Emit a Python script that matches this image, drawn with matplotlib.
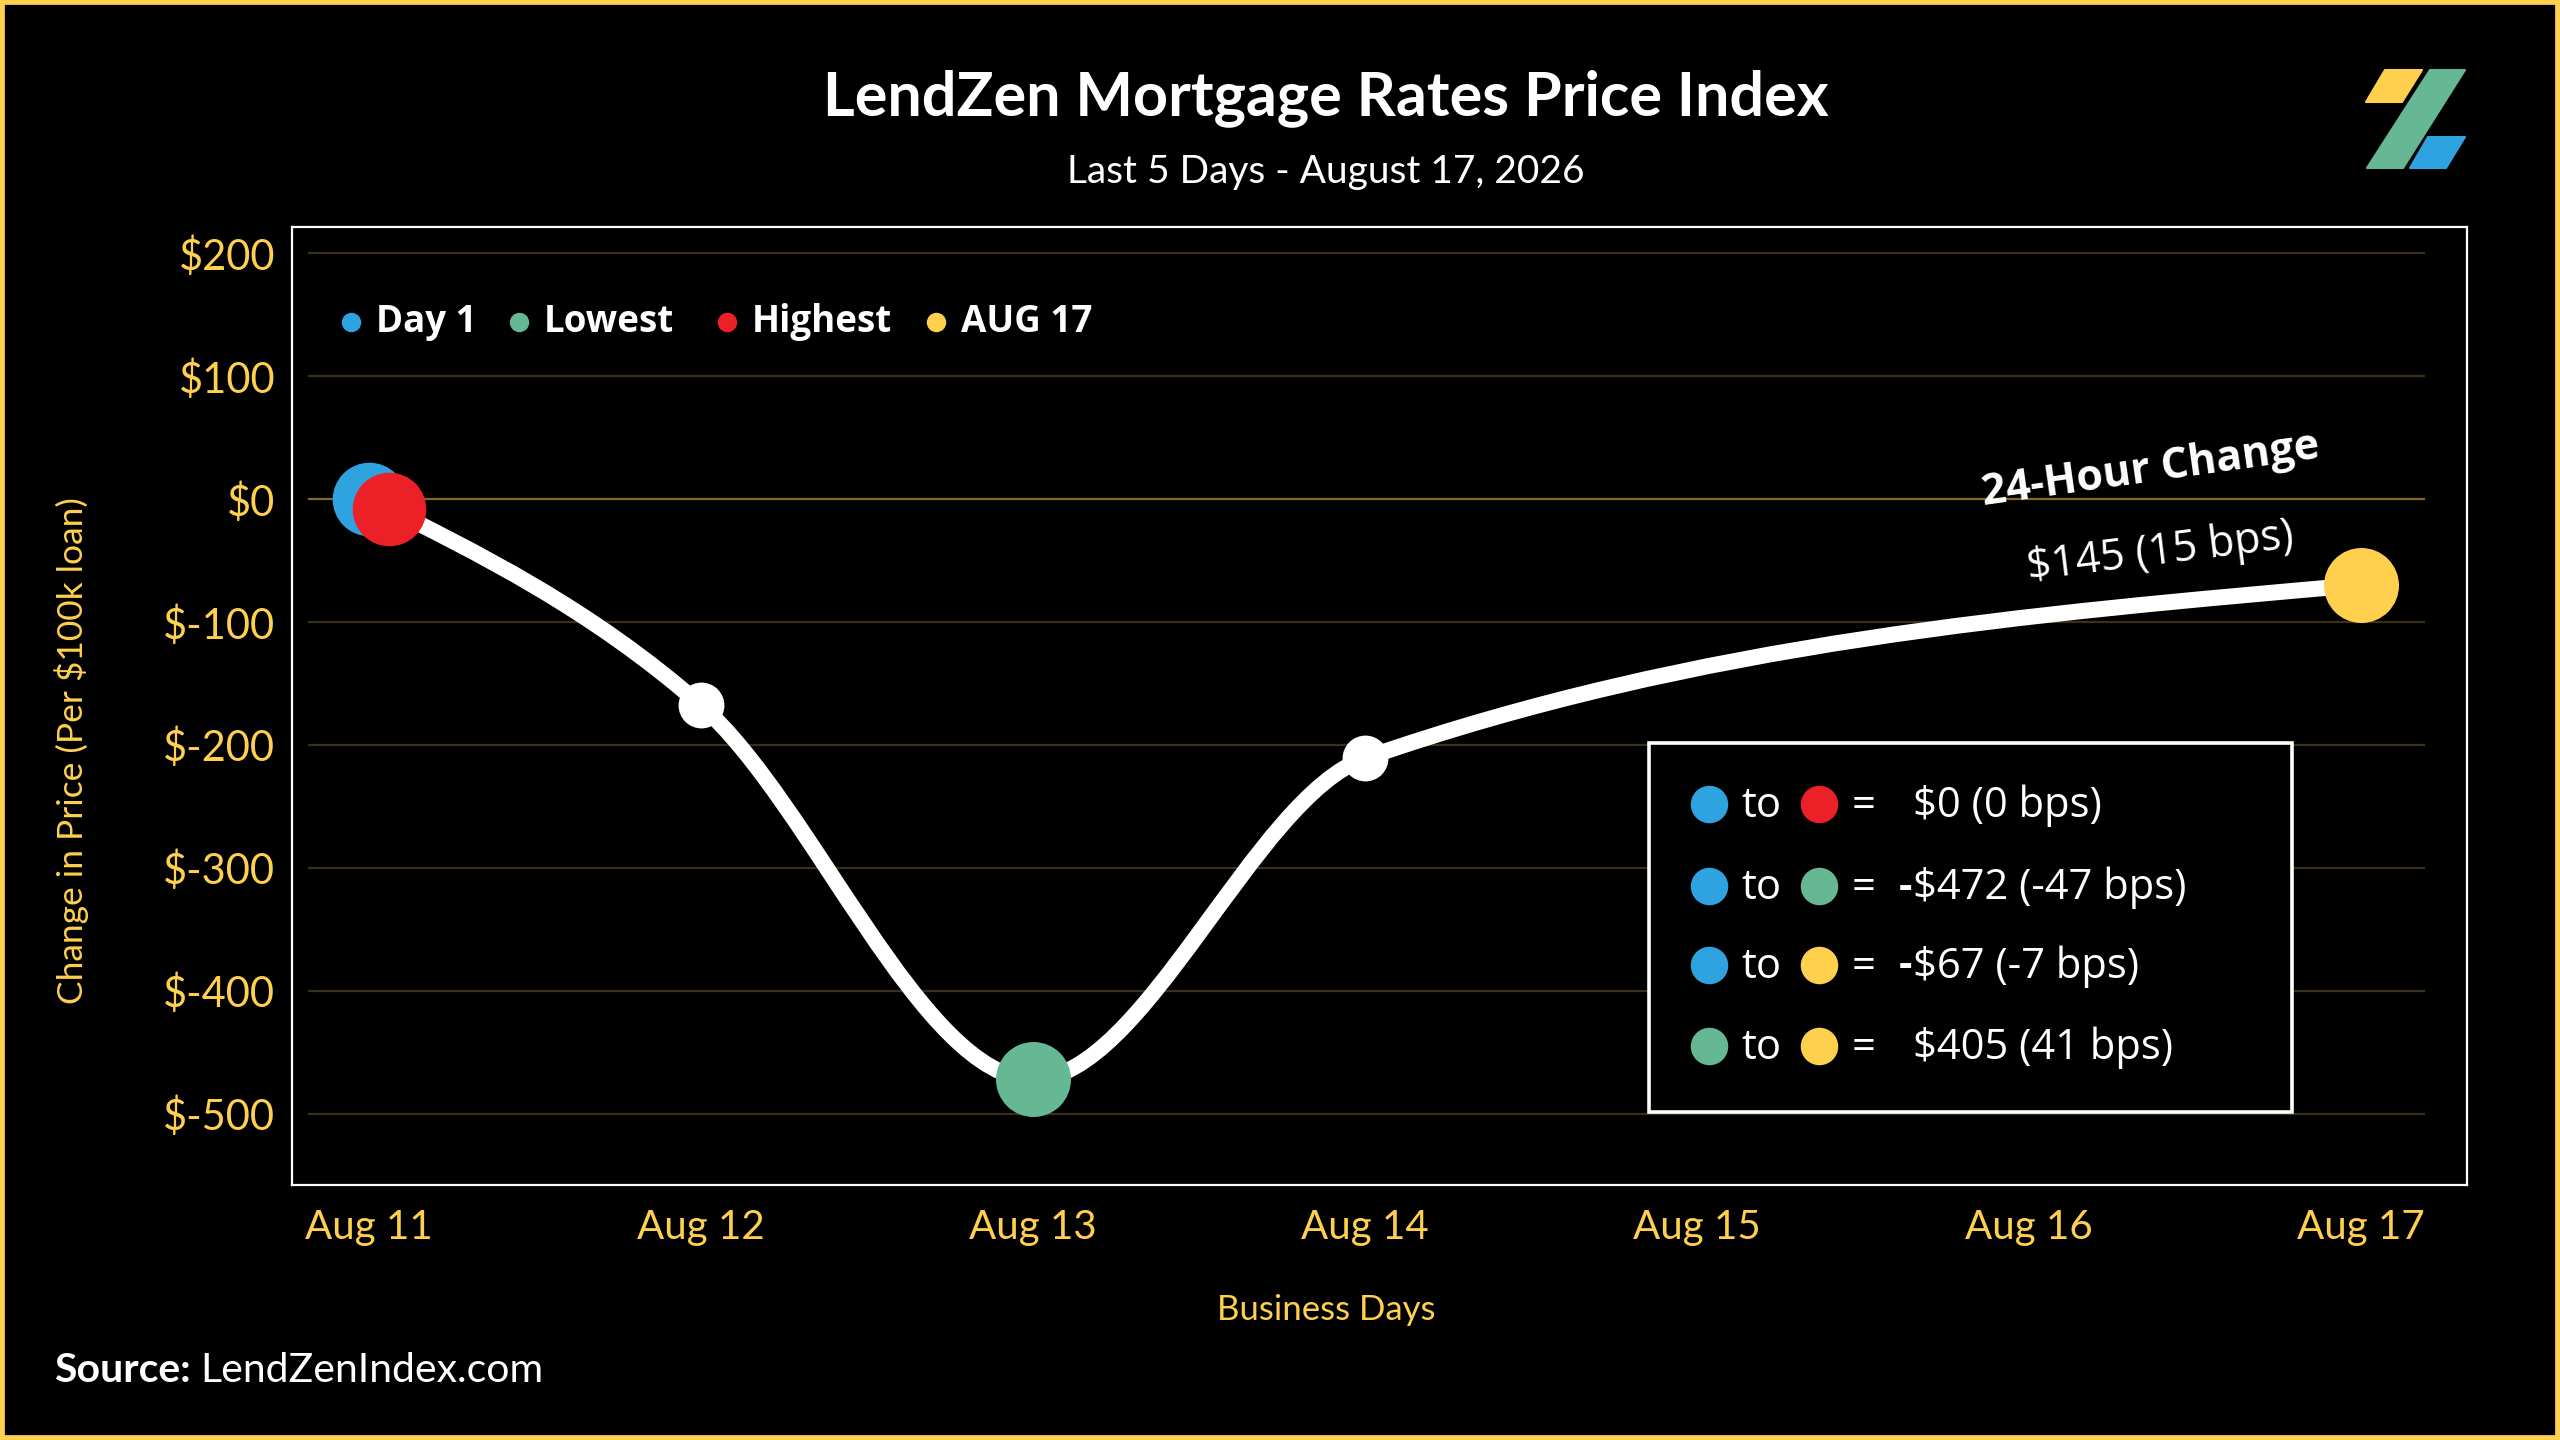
import numpy as np
import matplotlib
matplotlib.use("Agg")
import matplotlib.pyplot as plt
from matplotlib.path import Path
from matplotlib.patches import PathPatch, Rectangle, Polygon
from matplotlib.lines import Line2D

plt.rcParams['font.family'] = ['Lato', 'DejaVu Sans']
plt.rcParams['text.parse_math'] = False

# ---- data ----
day_labels = ['Aug 11', 'Aug 12', 'Aug 13', 'Aug 14', 'Aug 15', 'Aug 16', 'Aug 17']
trade_idx = [0, 1, 2, 3, 6]
price_change = [0, -168, -472, -211, -70]
y_ticks = [-500, -400, -300, -200, -100, 0, 100, 200]

legend_labels = ['Day 1', 'Lowest', 'Highest', 'AUG 17']
# highlighted points: day1, lowest, highest, latest
hl_x = [0, 2, 0.06, 6]
hl_y = [0, -472, -8, -70]

cmp_vals = ['$0 (0 bps)', '-$472 (-47 bps)', '-$67 (-7 bps)', '$405 (41 bps)']
cmp_from = [0, 0, 0, 1]   # index into legend colours
cmp_to = [2, 1, 3, 3]

change_label = '24-Hour Change'
change_value = '$145 (15 bps)'

BLUE = '#2ea3df'
GREEN = '#65b893'
RED = '#ec2027'
YELLOW = '#ffd04e'
colors = [BLUE, GREEN, RED, YELLOW]

W, H = 2560, 1440
OPEN = ['Open Sans', 'DejaVu Sans']


def px(x, y):
    return (x / W, 1 - y / H)


def sgn(v):
    return -1 if v < 0 else 1


fig = plt.figure(figsize=(25.6, 14.4), dpi=100, facecolor='black')
ax_l, ax_r, ax_t, ax_b = 292, 2467, 227, 1185
ax = fig.add_axes([ax_l / W, 1 - ax_b / H, (ax_r - ax_l) / W, (ax_b - ax_t) / H],
                  facecolor='black')
ax.set_xlim(-0.232, 6.319)
ax.set_ylim(-558, 221)
for s in ax.spines.values():
    s.set_color('white')
    s.set_linewidth(1.6)

# grid
for v in y_ticks:
    c = '#86692a' if v == 0 else '#3a3018'
    ax.axhline(v, xmin=0.008, xmax=0.980, color=c, lw=1.6, zorder=1)

ax.set_xticks(range(len(day_labels)))
ax.set_xticklabels(day_labels)
ax.set_yticks(y_ticks)
ax.set_yticklabels(['$' + str(v) for v in y_ticks])
ax.tick_params(length=0, colors=YELLOW, labelsize=29)
ax.tick_params(axis='x', pad=17)
ax.tick_params(axis='y', pad=12, labelsize=30)

# smooth monotone-x line (cubic bezier segments through the points)
x = np.array(trade_idx, float)
y = np.array(price_change, float)
n = len(x)
m = np.zeros(n)
for i in range(1, n - 1):
    h0, h1 = x[i] - x[i - 1], x[i + 1] - x[i]
    s0, s1 = (y[i] - y[i - 1]) / h0, (y[i + 1] - y[i]) / h1
    p = (s0 * h1 + s1 * h0) / (h0 + h1)
    m[i] = (sgn(s0) + sgn(s1)) * min(abs(s0), abs(s1), 0.5 * abs(p))
m[0] = (3 * (y[1] - y[0]) / (x[1] - x[0]) - m[1]) / 2
m[-1] = (3 * (y[-1] - y[-2]) / (x[-1] - x[-2]) - m[-2]) / 2
verts = [(x[0], y[0])]
codes = [Path.MOVETO]
for i in range(n - 1):
    h = (x[i + 1] - x[i]) / 3
    verts += [(x[i] + h, y[i] + m[i] * h), (x[i + 1] - h, y[i + 1] - m[i + 1] * h),
              (x[i + 1], y[i + 1])]
    codes += [Path.CURVE4] * 3
ax.add_patch(PathPatch(Path(verts, codes), fill=False, ec='white', lw=11.5,
                       capstyle='round', zorder=3))

# small white markers on ordinary days
ax.plot([x[1], x[3]], [y[1], y[3]], 'o', color='white', ms=33, mew=0, zorder=4)

# highlighted markers: blue, green, red, yellow
ax.plot(hl_x[0], hl_y[0], 'o', color=BLUE, ms=53, mew=0, zorder=5)
ax.plot(hl_x[2], hl_y[2], 'o', color=RED, ms=53, mew=0, zorder=6)
ax.plot(hl_x[1], hl_y[1], 'o', color=GREEN, ms=54, mew=0, zorder=5)
ax.plot(hl_x[3], hl_y[3], 'o', color=YELLOW, ms=54, mew=0, zorder=5)

# legend row inside the plot
leg_dot_x = [351, 519, 727, 936]
for lab, c, lx in zip(legend_labels, colors, leg_dot_x):
    fig.add_artist(Line2D([lx / W], [1 - 322 / H], marker='o', color=c, ms=14, mew=0,
                          transform=fig.transFigure))
    fig.text(*px(lx + 25, 322), lab, color='white', fontsize=26.5, fontweight='bold',
             family=OPEN, va='center', ha='left')

# 24-hour change annotation
fig.text(*px(2151, 470), change_label, color='white', fontsize=31, fontweight='bold',
         family=OPEN, ha='center', va='center', rotation=8, rotation_mode='anchor')
fig.text(*px(2160, 552), change_value, color='white', fontsize=31,
         family=OPEN, ha='center', va='center', rotation=7, rotation_mode='anchor')

# comparison box
bx0, by0, bx1, by1 = 1649, 743, 2292, 1112
fig.add_artist(Rectangle(px(bx0, by1), (bx1 - bx0) / W, (by1 - by0) / H,
                         transform=fig.transFigure, fc='black', ec='white', lw=2.6, zorder=2))
row_y = [804, 886, 965, 1046]
for ry, f, t, val in zip(row_y, cmp_from, cmp_to, cmp_vals):
    fig.add_artist(Line2D([1709 / W], [1 - ry / H], marker='o', color=colors[f], ms=27,
                          mew=0, transform=fig.transFigure, zorder=3))
    fig.add_artist(Line2D([1819 / W], [1 - ry / H], marker='o', color=colors[t], ms=27,
                          mew=0, transform=fig.transFigure, zorder=3))
    kw = dict(color='white', fontsize=30, family=OPEN, va='center', zorder=4)
    fig.text(*px(1741, ry + 2), 'to', ha='left', **kw)
    fig.text(*px(1864, ry + 2), '=', ha='center', **kw)
    if val.startswith('-'):
        fig.text(*px(1912, ry + 2), '-', ha='right', fontweight='bold', **kw)
        val = val[1:]
    fig.text(*px(1913, ry + 2), val, ha='left', **kw)

# titles
fig.text(*px(1326, 115), 'LendZen Mortgage Rates Price Index', color='white', fontsize=44,
         fontweight='bold', ha='center', va='baseline')
fig.text(*px(1326, 183), 'Last 5 Days - August 17, 2026', color='white', fontsize=28,
         ha='center', va='baseline')
fig.text(*px(72, 751), 'Change in Price (Per $100k loan)', color=YELLOW, fontsize=25.5,
         rotation=90, ha='center', va='center')
fig.text(*px(1326, 1310), 'Business Days', color=YELLOW, fontsize=25,
         ha='center', va='center')
fig.text(*px(54, 1382), 'Source:', color='white', fontsize=29.5, fontweight='bold',
         ha='left', va='baseline')
fig.text(*px(200, 1382), 'LendZenIndex.com', color='white', fontsize=29.5,
         ha='left', va='baseline')

# logo
logo = [
    ([(2385, 70), (2422, 70), (2402, 102), (2366, 102)], YELLOW),
    ([(2430, 70), (2465, 70), (2403, 168), (2367, 168)], GREEN),
    ([(2428, 137), (2465, 137), (2446, 168), (2410, 168)], BLUE),
]
for pts, c in logo:
    fig.add_artist(Polygon([px(*p) for p in pts], closed=True, transform=fig.transFigure,
                           fc=c, ec=c, lw=1.5, joinstyle='round'))

# yellow frame
fig.add_artist(Rectangle((0, 0), 1, 1, transform=fig.transFigure, fill=False,
                         ec=YELLOW, lw=7, zorder=10))

fig.savefig('out.png', dpi=100, facecolor='black')
